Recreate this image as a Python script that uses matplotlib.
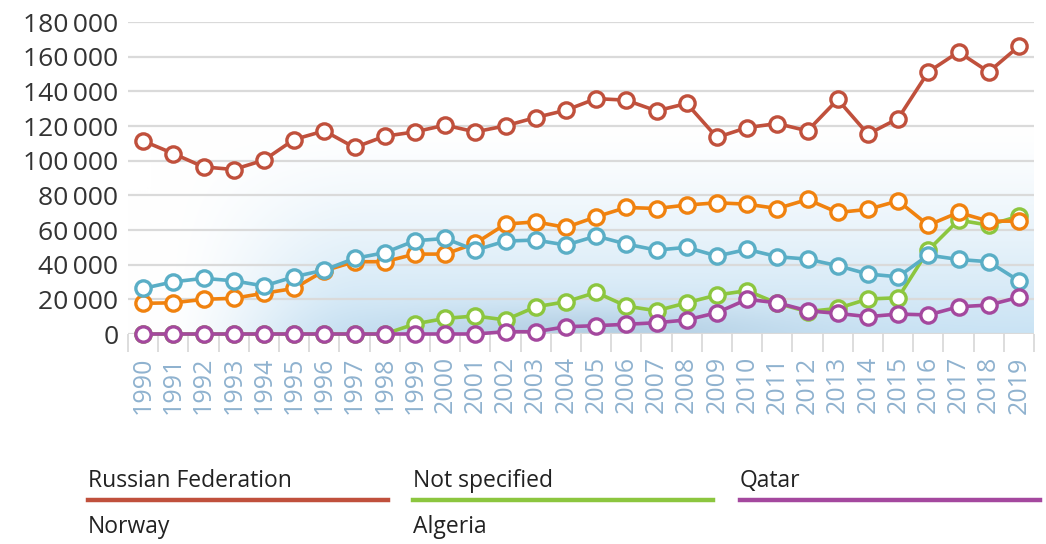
import numpy as np
import matplotlib
matplotlib.use("Agg")
import matplotlib.pyplot as plt
from matplotlib.lines import Line2D

years = list(range(1990, 2020))
russia = [111400, 104100, 96400, 94900, 100300, 112200, 117200, 107600, 114100, 116600,
          120500, 116600, 120100, 124900, 129100, 135800, 134900, 128700, 133000, 113400,
          119100, 121400, 117200, 135300, 115300, 124300, 151200, 162700, 151200, 166000]
norway = [17700, 18000, 20000, 20600, 23500, 26300, 36500, 41700, 41700, 46100,
          46100, 52300, 63400, 64700, 61500, 67600, 73000, 72400, 74400, 75700,
          74900, 72400, 77600, 70100, 71900, 76800, 62800, 70100, 65100, 65100]
algeria = [26300, 30100, 32100, 30700, 27700, 33000, 36900, 43600, 46900, 53800,
           55100, 48400, 53600, 54200, 51300, 56500, 51900, 48400, 50000, 45000,
           48800, 44600, 43200, 39400, 34600, 33000, 45500, 43000, 41700, 30700]
not_specified = [0, 0, 0, 0, 0, 0, 0, 0, 0, 5800,
                 9000, 10400, 8100, 15700, 18600, 24000, 16100, 13400, 18000, 22500,
                 25000, 17700, 12900, 14800, 20200, 20900, 48400, 65700, 62800, 68000]
qatar = [0, 0, 0, 0, 0, 0, 0, 0, 0, 0,
         0, 0, 1300, 1300, 4200, 4800, 5600, 6500, 8100, 12300,
         20000, 18000, 13400, 11900, 10000, 11500, 11000, 15700, 16700, 21200]

y_ticks = [0, 20000, 40000, 60000, 80000, 100000, 120000, 140000, 160000, 180000]
y_labels = ["0", "20\u2009000", "40\u2009000", "60\u2009000", "80\u2009000", "100\u2009000",
            "120\u2009000", "140\u2009000", "160\u2009000", "180\u2009000"]

legend_names = ["Russian Federation", "Not specified", "Qatar", "Norway", "Algeria"]
c_russia = "#c0503c"
c_norway = "#f0820f"
c_algeria = "#5aaec6"
c_notspec = "#8cc63f"
c_qatar = "#a4489e"

plt.rcParams['font.family'] = ['Open Sans', 'DejaVu Sans']

fig = plt.figure(figsize=(10.46, 5.44), dpi=100)
ax = fig.add_axes([128 / 1046, (544 - 334) / 544, (1034 - 128) / 1046, (334 - 22) / 544])

# background glow
nx, ny = 300, 200
gx = np.linspace(1989.5, 2019.5, nx)
gy = np.linspace(0, 180000, ny)
X, Y = np.meshgrid(gx, gy)
g = np.clip(1 - Y / 120000, 0, 1) ** 1.3
h = np.clip((X - 1990.3) / 7.0, 0, 1)
h = h * h * (3 - 2 * h)
a1 = 0.9 * g * h
base = np.ones((ny, nx, 3))
c1 = np.array([196, 224, 243]) / 255
img = base * (1 - a1[..., None]) + c1 * a1[..., None]
a2 = 0.5 * np.exp(-((X - 2005) / 6.5) ** 2 - (Y / 15000.0) ** 2)
c2 = np.array([160, 189, 212]) / 255
img = img * (1 - a2[..., None]) + c2 * a2[..., None]
ax.imshow(img, origin="lower", extent=(1989.5, 2019.5, 0, 180000), aspect="auto",
          zorder=0, interpolation="bilinear")

for yv in y_ticks:
    ax.axhline(yv, color="#dadada", lw=1.6, zorder=1)

def draw(vals, color, z):
    ax.plot(years, vals, color=color, lw=2.6, marker="o", ms=11, mfc="white",
            mec=color, mew=2.4, zorder=z, clip_on=False)

draw(not_specified, c_notspec, 3)
draw(norway, c_norway, 4)
draw(algeria, c_algeria, 5)
draw(qatar, c_qatar, 6)
draw(russia, c_russia, 7)

ax.set_xlim(1989.5, 2019.5)
ax.set_ylim(0, 180000)
for s in ax.spines.values():
    s.set_visible(False)

ax.set_yticks(y_ticks)
ax.set_yticklabels(y_labels)
ax.tick_params(axis="y", length=0, pad=7, labelsize=19, labelcolor="#333333")

ax.set_xticks(years)
ax.set_xticklabels([str(y) for y in years], rotation=90)
ax.tick_params(axis="x", which="major", length=0, pad=16, labelsize=18, labelcolor="#8fb2cf")
ax.set_xticks([y - 0.5 for y in years] + [2019.5], minor=True)
ax.tick_params(axis="x", which="minor", length=13, width=1.3, color="#dadada", direction="out")

# legend (manual)
col_x = [88, 413, 740]
row1_y = 481
line_y = 500
cols = [c_russia, c_notspec, c_qatar]
for i in range(3):
    fig.text(col_x[i] / 1046, (544 - row1_y) / 544, legend_names[i], fontsize=16.5,
             color="#222222", va="center", ha="left")
    fig.add_artist(Line2D([col_x[i] / 1046, (col_x[i] + 300) / 1046],
                          [(544 - line_y) / 544] * 2, color=cols[i], lw=3.2,
                          transform=fig.transFigure))
for i in range(2):
    fig.text(col_x[i] / 1046, (544 - 527) / 544, legend_names[3 + i], fontsize=16.5,
             color="#222222", va="center", ha="left")

fig.savefig("out.png", dpi=100)
